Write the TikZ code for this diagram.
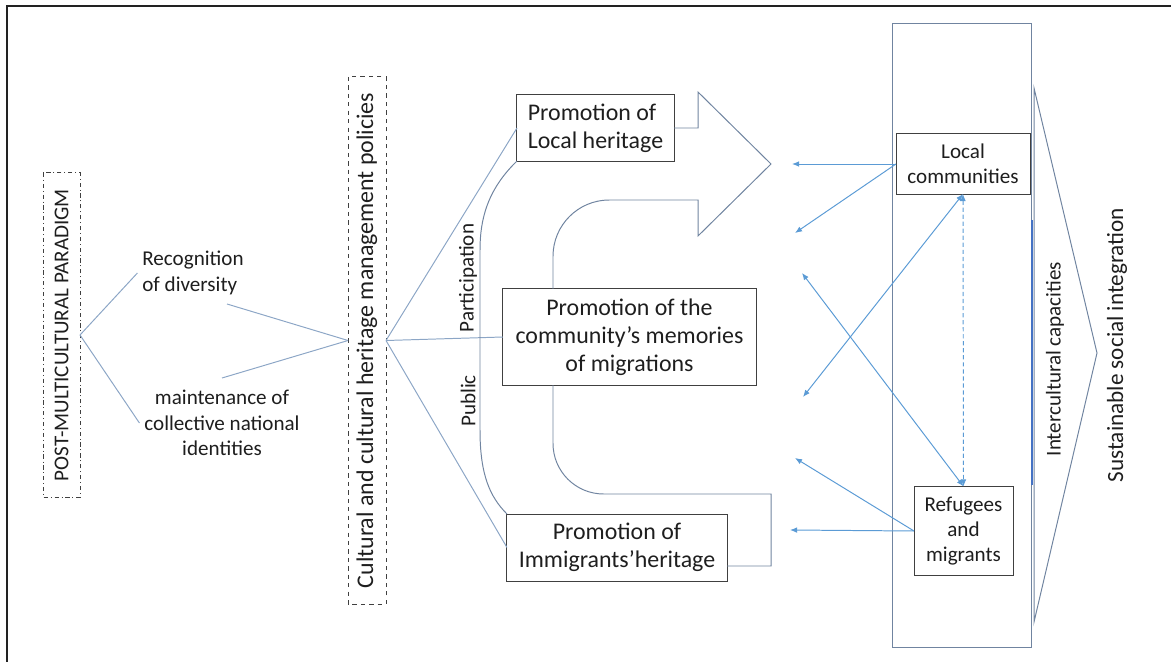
\documentclass[tikz,border=0pt]{standalone}
\usepackage{fontspec}
\setmainfont{Carlito}
\usetikzlibrary{arrows.meta}

\definecolor{boxline}{RGB}{64,64,64}
\definecolor{linkline}{RGB}{140,166,198}
\definecolor{shapeline}{RGB}{112,132,160}
\definecolor{arrowblue}{RGB}{91,155,213}
\definecolor{edgeblue}{RGB}{68,114,196}
\definecolor{frameline}{RGB}{34,34,34}
\definecolor{inktext}{RGB}{30,30,30}

\tikzset{
  txtbox/.style={draw=boxline, line width=0.7pt, inner sep=0pt, outer sep=0pt, text=inktext},
  bigtext/.style={font=\fontsize{17}{20}\selectfont, text=inktext},
  smalltext/.style={font=\fontsize{15}{18}\selectfont, text=inktext},
  link/.style={linkline, line width=0.7pt},
  outline/.style={shapeline, line width=0.7pt},
  arr/.style={arrowblue, line width=0.7pt, -{Latex[length=5pt,width=4pt]}},
  twoarr/.style={arrowblue, line width=0.7pt, {Latex[length=5pt,width=4pt]}-{Latex[length=5pt,width=4pt]}}
}

\begin{document}
\begin{tikzpicture}[x=0.025cm, y=-0.025cm]

\useasboundingbox (0,0) rectangle (1171,662);

\draw[frameline, line width=1.6pt] (7,662) -- (7,6) -- (1171,6);

\node[txtbox, smalltext, dash dot, rotate=90, minimum width=8.1cm, minimum height=0.925cm] (post) at (61.5,335) {POST-MULTICULTURAL PARADIGM};

\node[smalltext, align=left] (rec) at (193,273) {Recognition\\of diversity};

\node[smalltext, align=center] (maint) at (222,423) {maintenance of\\collective national\\identities};

\node[txtbox, bigtext, dashed, rotate=90, minimum width=13.175cm, minimum height=0.95cm] (cult) at (367,340.5) {Cultural and cultural heritage management policies};

\coordinate (recout) at (227,304);

\coordinate (maintout) at (222,378);

\draw[link] (post.south) -- (rec.west);

\draw[link] (post.south) -- (maint.west);

\draw[link] (recout) -- (cult.north);

\draw[link] (maintout) -- (cult.north);

\node[txtbox, bigtext, align=left, minimum width=3.925cm, minimum height=1.65cm] (loc) at (595.5,128) {Promotion of\\Local heritage};

\node[txtbox, bigtext, align=center, minimum width=6.325cm, minimum height=2.4cm] (mem) at (629.5,337) {Promotion of the\\community’s memories\\of migrations};

\node[txtbox, bigtext, align=center, minimum width=5.5cm, minimum height=1.675cm] (imm) at (617,547.5) {Promotion of\\Immigrants’heritage};

\draw[link] (cult.south) -- (loc.west);

\draw[link] (cult.south) -- (mem.west);

\draw[link] (cult.south) -- (imm.west);

\draw[outline] (loc.south west) .. controls (487,190) and (480,220) .. (480,250) -- (480,430) .. controls (480,475) and (490,497) .. (imm.north west);

\node[smalltext, rotate=90] (par) at (468,278) {Participation};

\node[smalltext, rotate=90] (pub) at (468,401) {Public};

\draw[outline] (loc.east) -- (698,128) -- (698,92) -- (771,164) -- (698,236) -- (698,200) [rounded corners=40pt] -- (553,200) -- (553,289);

\draw[outline] (553,385) [rounded corners=36pt] -- (553,494) [sharp corners] -- (771,494) -- (771,566) -- (727,566);

\draw[outline] (892,23) rectangle (1031,647);

\draw[outline] (1034,88) -- (1097,353) -- (1034,622) -- cycle;

\draw[edgeblue, line width=0.8pt] (1032,220) -- (1032,485);

\node[smalltext, rotate=90] (icap) at (1055,359) {Intercultural capacities};

\node[font=\fontsize{16.5}{20}\selectfont, text=inktext, rotate=90] (ssi) at (1117,345) {Sustainable social integration};

\node[txtbox, smalltext, align=center, fill=white, minimum width=3.35cm, minimum height=1.5cm] (lc) at (963,164) {Local\\communities};

\node[txtbox, smalltext, align=center, fill=white, minimum width=2.475cm, minimum height=2.225cm] (rf) at (963.5,531) {Refugees\\and\\migrants};

\coordinate (t1) at (792,164);

\coordinate (t2) at (795,233);

\coordinate (t3) at (803,397);

\coordinate (t4) at (802,273);

\coordinate (t5) at (795,458);

\coordinate (t6) at (790,530);

\draw[arr] (lc.west) -- (t1);

\draw[arr] (lc.west) -- (t2);

\draw[twoarr] (lc.south) -- (t3);

\draw[twoarr, dash pattern=on 3pt off 2pt] (lc.south) -- (rf.north);

\draw[twoarr] (t4) -- (rf.north);

\draw[arr] (rf.west) -- (t5);

\draw[arr] (rf.west) -- (t6);

\end{tikzpicture}
\end{document}
